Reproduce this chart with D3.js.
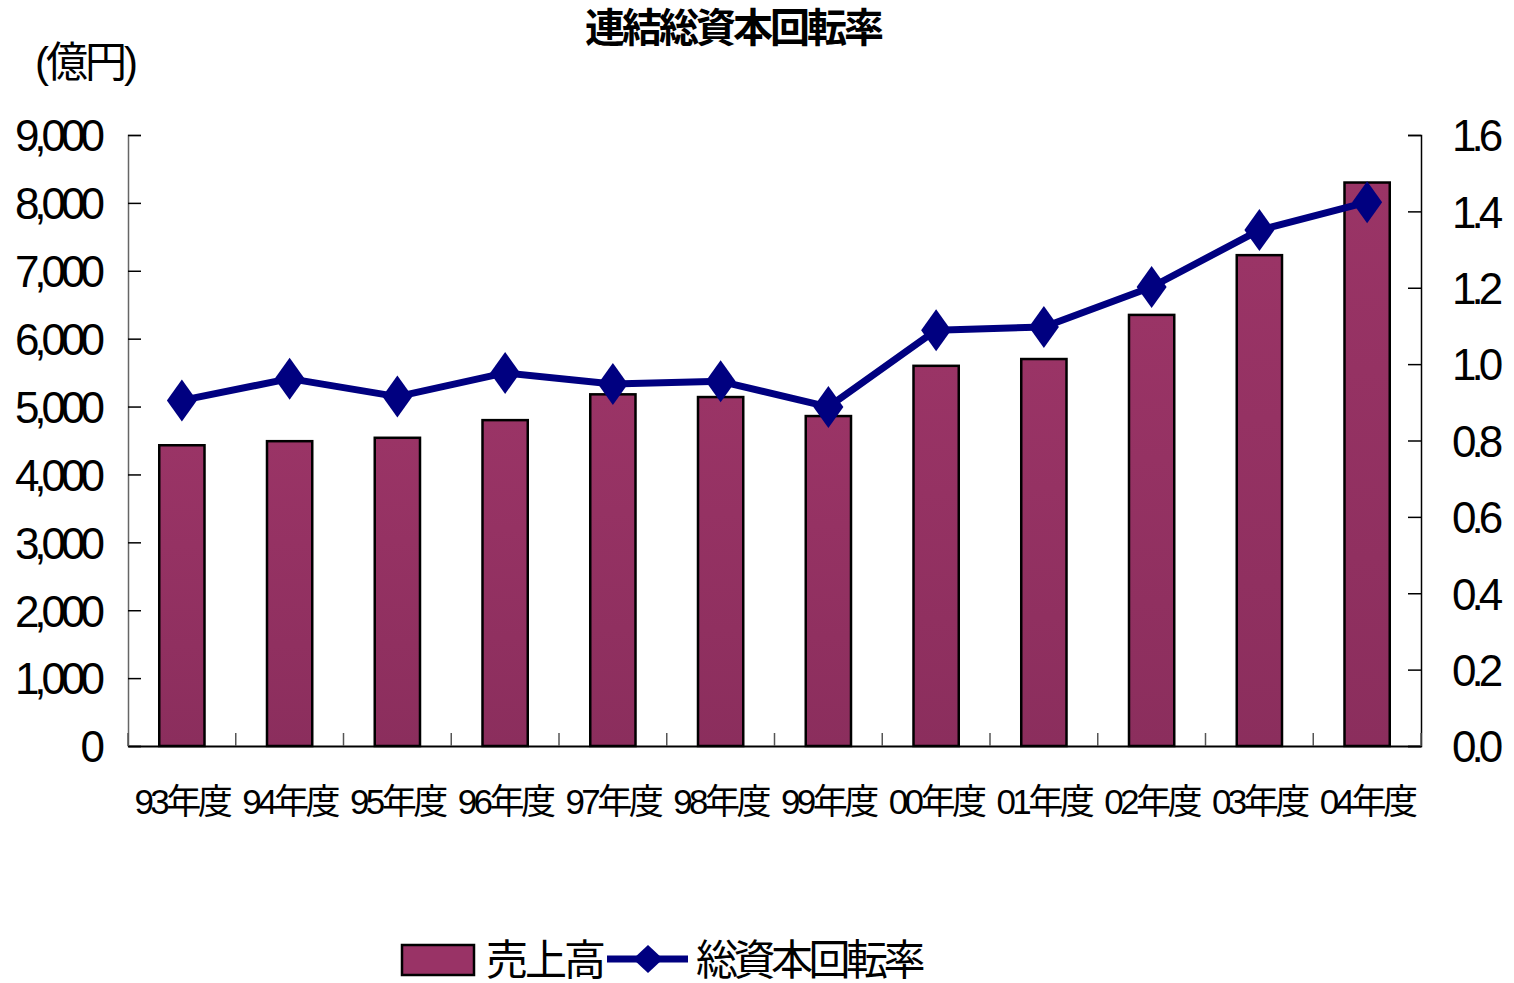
<!DOCTYPE html>
<html><head><meta charset="utf-8">
<script src="https://cdn.jsdelivr.net/npm/d3@7"></script>
<style>
html,body{margin:0;padding:0;background:#fff;}
text{font-family:"Liberation Sans","Noto Sans CJK JP",sans-serif;fill:#000;}
</style></head>
<body>
<svg id="chart" width="1514" height="983"></svg>
<script>
const categories = ["93年度","94年度","95年度","96年度","97年度","98年度","99年度","00年度","01年度","02年度","03年度","04年度"];
const sales = [4430, 4490, 4540, 4800, 5180, 5140, 4860, 5600, 5700, 6350, 7230, 8300];
const turnover = [0.905, 0.962, 0.915, 0.977, 0.948, 0.955, 0.888, 1.089, 1.097, 1.202, 1.351, 1.424];
const leftTicks = [0,1000,2000,3000,4000,5000,6000,7000,8000,9000];
const rightTicks = [0,0.2,0.4,0.6,0.8,1.0,1.2,1.4,1.6];
const title = "連結総資本回転率";
const unitLabel = "(億円)";
const seriesNames = ["売上高","総資本回転率"];

const svg = d3.select("#chart");
const L = 128, R = 1421, T = 135, B = 746;

const x = d3.scaleBand().domain(categories).range([L, R]).paddingInner(0.58).paddingOuter(0.29);
const yL = d3.scaleLinear().domain([0, 9000]).range([B, T]);
const yR = d3.scaleLinear().domain([0, 1.6]).range([B, T]);

const defs = svg.append("defs");
const grad = defs.append("linearGradient").attr("id","barg").attr("x1",0).attr("x2",0).attr("y1",0).attr("y2",1);
grad.append("stop").attr("offset","0%").attr("stop-color","#9a3466");
grad.append("stop").attr("offset","100%").attr("stop-color","#8b2e5d");

// bars
svg.append("g").selectAll("rect").data(sales).join("rect")
  .attr("x",(d,i)=>x(categories[i]))
  .attr("y",d=>yL(d))
  .attr("width",x.bandwidth())
  .attr("height",d=>B-yL(d))
  .attr("fill","url(#barg)")
  .attr("stroke","#000").attr("stroke-width",2.5);

// axes
const fmt = d3.format(",");
const axL = d3.axisLeft(yL).tickValues(leftTicks).tickSize(-13).tickPadding(28).tickFormat(fmt);
const gL = svg.append("g").attr("transform",`translate(${L},0)`).call(axL);
gL.select(".domain").attr("stroke","#666").attr("stroke-width",1.5);
gL.selectAll(".tick line").attr("stroke","#000").attr("stroke-width",1.5);
gL.selectAll(".tick text").attr("font-size",44).attr("letter-spacing","-5px").attr("dy","0.36em");

const axR = d3.axisRight(yR).tickValues(rightTicks).tickSize(-13).tickPadding(31).tickFormat(d3.format(".1f"));
const gR = svg.append("g").attr("transform",`translate(${R},0)`).call(axR);
gR.select(".domain").attr("stroke","#000").attr("stroke-width",1.5);
gR.selectAll(".tick line").attr("stroke","#000").attr("stroke-width",1.5);
gR.selectAll(".tick text").attr("font-size",44).attr("letter-spacing","-5px").attr("dy","0.36em");

const step = x.step();
const xb = d3.axisBottom(x).tickSize(0).tickPadding(43);
const gB = svg.append("g").attr("transform",`translate(0,${B})`).call(xb);
gB.select(".domain").attr("stroke","#000").attr("stroke-width",2);
gB.selectAll(".tick text").attr("font-size",35).attr("letter-spacing","-3.5px");
// category boundary ticks
const bounds = d3.range(categories.length+1).map(i=>L+i*step);
svg.append("g").selectAll("line").data(bounds).join("line")
  .attr("x1",d=>d).attr("x2",d=>d).attr("y1",B).attr("y2",B-13)
  .attr("stroke","#555").attr("stroke-width",1.5);

// diamond marker shape
function diamondPath(w,h){ return `M0,${-h}L${w},0L0,${h}L${-w},0Z`; }

// line
const pts = turnover.map((v,i)=>[x(categories[i])+x.bandwidth()/2, yR(v)]);
svg.append("path").datum(pts).attr("d",d3.line())
  .attr("fill","none").attr("stroke","#000080").attr("stroke-width",7).attr("stroke-linejoin","round");
svg.append("g").selectAll("path").data(pts).join("path")
  .attr("d",diamondPath(15,21))
  .attr("transform",d=>`translate(${d[0]},${d[1]})`)
  .attr("fill","#000080");

// title
svg.append("text").attr("x",733).attr("y",42).attr("text-anchor","middle")
  .attr("font-size",40).attr("letter-spacing","-3px").attr("font-weight","bold").text(title);
// unit
svg.append("text").attr("x",85).attr("y",77).attr("text-anchor","middle")
  .attr("font-size",42).attr("letter-spacing","-3px").text(unitLabel);

// legend
const lg = svg.append("g");
lg.append("rect").attr("x",402).attr("y",945).attr("width",72).attr("height",30)
  .attr("fill","#993366").attr("stroke","#000").attr("stroke-width",2.5);
lg.append("text").attr("x",486).attr("y",975).attr("font-size",42).attr("letter-spacing","-3px").text(seriesNames[0]);
lg.append("line").attr("x1",607).attr("x2",688).attr("y1",959).attr("y2",959).attr("stroke","#000080").attr("stroke-width",7);
lg.append("path").attr("d",diamondPath(15,14)).attr("transform","translate(648,959)").attr("fill","#000080");
lg.append("text").attr("x",696).attr("y",975).attr("font-size",42).attr("letter-spacing","-4.5px").text(seriesNames[1]);
</script>
</body></html>
